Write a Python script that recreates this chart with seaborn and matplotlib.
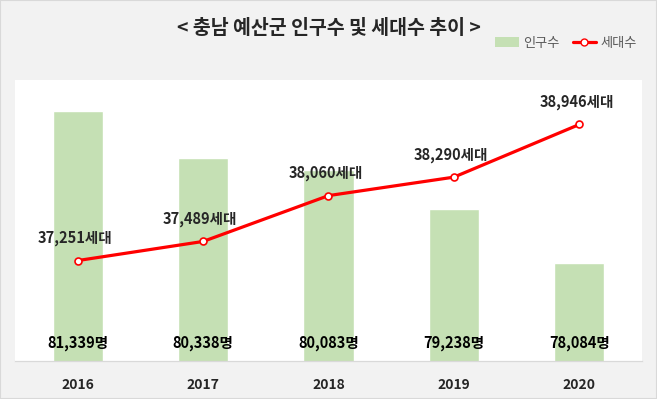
import matplotlib
matplotlib.use('Agg')
import matplotlib.pyplot as plt
import seaborn as sns
import pandas as pd
from matplotlib.patches import Patch, Rectangle
from matplotlib.lines import Line2D

years = ['2016', '2017', '2018', '2019', '2020']
population = [81339, 80338, 80083, 79238, 78084]
households = [37251, 37489, 38060, 38290, 38946]

df = pd.DataFrame({'year': years, 'pop': population, 'hh': households})

sns.set_style('white')
plt.rcParams['font.family'] = ['Noto Sans CJK KR', 'DejaVu Sans']

green = '#c5e0b4'
red = '#ff0000'

fig = plt.figure(figsize=(6.57, 3.99), dpi=100, facecolor='#f2f2f2')
fig.patches.append(Rectangle((0, 0), 1, 1, transform=fig.transFigure, fill=False,
                             edgecolor='#d9d9d9', linewidth=1.5))
ax = fig.add_axes([15 / 657, 38 / 399, 627 / 657, 281 / 399])
ax.set_facecolor('white')

# population bars
sns.barplot(data=df, x='year', y='pop', color=green, width=0.4, saturation=1, ax=ax)
ax.set_ylim(76000, 82000)
for i, v in enumerate(population):
    ax.text(i, 76000 + 6000 * 0.065, f'{v:,}명', ha='center', va='center',
            fontsize=10.5, fontweight='bold', color='black')

# households line
ax2 = ax.twinx()
sns.pointplot(data=df, x='year', y='hh', color=red, ax=ax2, markers='o',
              markersize=5, markerfacecolor='white', markeredgecolor=red,
              markeredgewidth=1.2, linewidth=2.3, errorbar=None)
ax2.set_ylim(36000, 39500)
for i, v in enumerate(households):
    ax2.annotate(f'{v:,}세대', (i, v), xytext=(-2, 16), textcoords='offset points',
                 ha='center', va='center', fontsize=10.5, fontweight='bold')

for a in (ax, ax2):
    a.set_xlabel('')
    a.set_ylabel('')
    a.set_yticks([])
    for s in ['top', 'left', 'right']:
        a.spines[s].set_visible(False)
    a.spines['bottom'].set_color('#d9d9d9')
ax.set_xlim(-0.5, 4.5)
ax.tick_params(axis='x', length=0, pad=12)
for lbl in ax.get_xticklabels():
    lbl.set_fontweight('bold')
    lbl.set_fontsize(10)

fig.text(0.5, 1 - 28 / 399, '< 충남 예산군 인구수 및 세대수 추이 >', ha='center', va='center',
         fontsize=14, fontweight='bold')

handles = [Patch(facecolor=green, edgecolor='none'),
           Line2D([0], [0], color=red, linewidth=2.3, marker='o', markersize=5,
                  markerfacecolor='white', markeredgecolor=red)]
fig.legend(handles, ['인구수', '세대수'], loc='center right', bbox_to_anchor=(0.987, 1 - 43 / 399),
           ncol=2, frameon=False, fontsize=9.5, labelcolor='#595959', handlelength=1.8,
           handletextpad=0.3, columnspacing=1.0)

fig.savefig('out.png', dpi=100, facecolor=fig.get_facecolor())
